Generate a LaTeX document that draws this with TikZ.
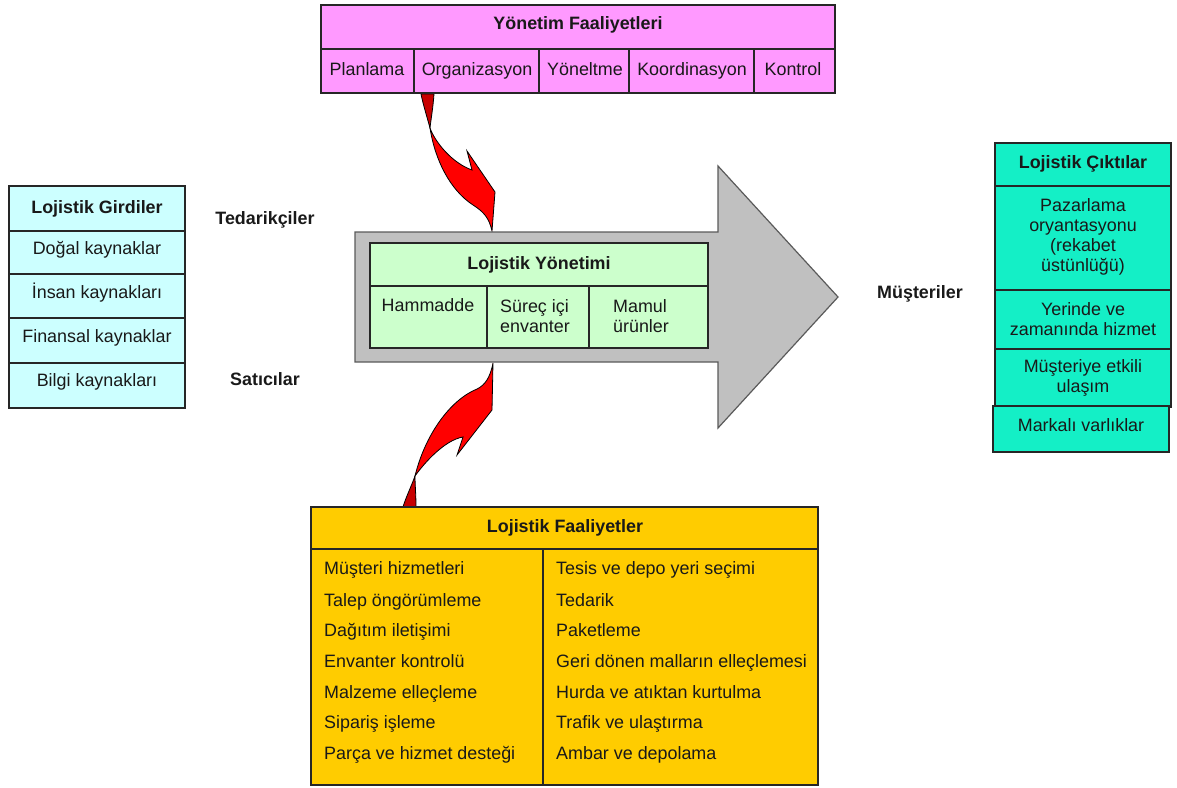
\documentclass[tikz,border=0pt]{standalone}
\usepackage{fontspec}
\setmainfont{Liberation Sans}
\definecolor{mgmtfill}{HTML}{FF99FF}
\definecolor{inputfill}{HTML}{CCFFFF}
\definecolor{outputfill}{HTML}{14EFC6}
\definecolor{logfill}{HTML}{FFCC00}
\definecolor{corefill}{HTML}{CCFFCC}
\definecolor{flowfill}{HTML}{C0C0C0}
\definecolor{flowline}{HTML}{5A5A5A}
\definecolor{redbody}{HTML}{FF0000}
\definecolor{redtail}{HTML}{C80000}
\begin{document}
\begin{tikzpicture}[x=1pt,y=-1pt,line join=miter,
  box/.style={draw=black!85,line width=1.3pt},
  rule/.style={draw=black!85,line width=1.3pt},
  txt/.style={inner sep=0pt,text height=0.75em,text depth=0.2em,yshift=-3.5pt,
    font=\fontsize{17.9}{20}\selectfont,text=black!90},
  hdr/.style={txt,font=\fontsize{17.9}{20}\selectfont\bfseries},
  multi/.style={inner sep=0pt,align=center,yshift=-1pt,
    font=\fontsize{17.9}{20}\selectfont,text=black!90},
  curl/.style={draw=black,line width=0.8pt}]
\useasboundingbox (0,0) rectangle (1177,787);

% --- curled red arrows ---
\filldraw[curl,fill=redtail] (421,94) -- (434,94)
  .. controls (433,108) and (431,119) .. (430,128)
  .. controls (427,117) and (423,104) .. (421,94) -- cycle;
\filldraw[curl,fill=redbody] (430,128)
  .. controls (435,142) and (452,163) .. (472,170)
  -- (467,151) -- (495,192) -- (492,231)
  .. controls (489,218) and (484,212) .. (473,205)
  .. controls (450,190) and (435,160) .. (430,128) -- cycle;

\filldraw[curl,fill=redtail] (403,507) -- (416,507)
  .. controls (416,495) and (415,485) .. (415,476)
  .. controls (411,487) and (406,497) .. (403,507) -- cycle;
\filldraw[curl,fill=redbody] (415,476)
  .. controls (425,462) and (445,440) .. (463,437)
  -- (457,455) -- (492,410) -- (493,363)
  .. controls (490,378) and (485,385) .. (477,389)
  .. controls (450,400) and (425,435) .. (415,476) -- cycle;

% --- grey flow arrow ---
\filldraw[draw=flowline,line width=1.2pt,fill=flowfill]
  (355,232) -- (718,232) -- (718,166) -- (838,297) -- (718,428)
  -- (718,362) -- (355,362) -- cycle;

% --- management activities ---
\filldraw[box,fill=mgmtfill] (321,5) rectangle (835,93);
\draw[rule] (321,49) -- (835,49);
\foreach \xx in {414,539,629,754} \draw[rule] (\xx,49) -- (\xx,93);
\node[hdr] (yf) at (578,23) {Yönetim Faaliyetleri};
\node[txt] (plan) at (367,69) {Planlama};
\node[txt] (org)  at (477,69) {Organizasyon};
\node[txt] (yon)  at (585,69) {Yöneltme};
\node[txt] (koor) at (692,69) {Koordinasyon};
\node[txt] (kont) at (793,69) {Kontrol};

% --- logistics inputs ---
\filldraw[box,fill=inputfill] (9,186) rectangle (185,408);
\foreach \yy in {231,274,318,363} \draw[rule] (9,\yy) -- (185,\yy);
\node[hdr] (lg) at (97,207) {Lojistik Girdiler};
\node[txt] (in1) at (97,248) {Doğal kaynaklar};
\node[txt] (in2) at (97,292) {İnsan kaynakları};
\node[txt] (in3) at (97,336) {Finansal kaynaklar};
\node[txt] (in4) at (97,380) {Bilgi kaynakları};

\node[hdr] (ted) at (265,218) {Tedarikçiler};
\node[hdr] (sat) at (265,379) {Satıcılar};
\node[hdr] (mus) at (920,292) {Müşteriler};

% --- logistics management ---
\filldraw[box,fill=corefill] (370,243) rectangle (708,348);
\draw[rule] (370,286) -- (708,286);
\draw[rule] (487,286) -- (487,348);
\draw[rule] (589,286) -- (589,348);
\node[hdr] (ly) at (539,263) {Lojistik Yönetimi};
\node[txt] (ham) at (428,305) {Hammadde};
\node[multi,align=left] (sur) at (535,315) {Süreç içi\\envanter};
\node[multi,align=left] (mam) at (641,315) {Mamul\\ürünler};

% --- logistics outputs ---
\filldraw[box,fill=outputfill] (995,143) rectangle (1171,407);
\foreach \yy in {186,290,349} \draw[rule] (995,\yy) -- (1171,\yy);
\filldraw[box,fill=outputfill] (993,406) rectangle (1169,452);
\node[hdr] (lc) at (1083,162) {Lojistik Çıktılar};
\node[multi] (out1) at (1083,236) {Pazarlama\\oryantasyonu\\(rekabet\\üstünlüğü)};
\node[multi] (out2) at (1083,318) {Yerinde ve\\zamanında hizmet};
\node[multi] (out3) at (1083,377) {Müşteriye etkili\\ulaşım};
\node[txt] (out4) at (1081,425) {Markalı varlıklar};

% --- logistics activities ---
\filldraw[box,fill=logfill] (311,507) rectangle (818,785);
\draw[rule] (311,549) -- (818,549);
\draw[rule] (543,549) -- (543,785);
\node[hdr] (lf) at (565,526) {Lojistik Faaliyetler};
\foreach \nm/\yy/\tx in {a1/568/Müşteri hizmetleri,a2/600/Talep öngörümleme,
  a3/630/Dağıtım iletişimi,a4/661/Envanter kontrolü,a5/692/Malzeme elleçleme,
  a6/722/Sipariş işleme,a7/753/Parça ve hizmet desteği}
  \node[txt,anchor=west] (\nm) at (324,\yy) {\tx};
\foreach \nm/\yy/\tx in {b1/568/Tesis ve depo yeri seçimi,b2/600/Tedarik,
  b3/630/Paketleme,b4/661/Geri dönen malların elleçlemesi,
  b5/692/Hurda ve atıktan kurtulma,b6/722/Trafik ve ulaştırma,
  b7/753/Ambar ve depolama}
  \node[txt,anchor=west] (\nm) at (556,\yy) {\tx};
\end{tikzpicture}
\end{document}
